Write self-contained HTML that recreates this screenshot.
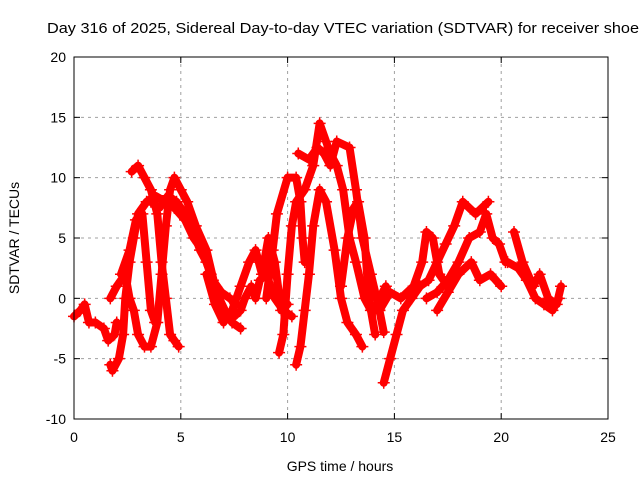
<!DOCTYPE html>
<html><head><meta charset="utf-8"><style>
body{margin:0;background:#fff;}
svg{display:block;font-family:"Liberation Sans",sans-serif;}
</style></head><body>
<svg id="chart" width="640" height="480" viewBox="0 0 640 480" xmlns="http://www.w3.org/2000/svg">
<text x="47" y="33" font-size="15" textLength="592" lengthAdjust="spacingAndGlyphs" fill="#000">Day 316 of 2025, Sidereal Day-to-day VTEC variation (SDTVAR) for receiver shoe</text>
<g id="grid"></g>
<g id="ticks"></g>
<g id="series"></g>
<rect x="74" y="57" width="534" height="362" fill="none" stroke="#000" stroke-width="1"/>
<text x="340" y="471" font-size="14" text-anchor="middle">GPS time / hours</text>
<text transform="translate(19,238) rotate(-90)" font-size="14" text-anchor="middle">SDTVAR / TECUs</text>
</svg>
<script>
const xTicks=[0,5,10,15,20,25];
const yTicks=[-10,-5,0,5,10,15,20];
const traceA=[[0,-1.5],[0.3,-1],[0.5,-0.5],[0.7,-2],[1,-2],[1.4,-2.5],[1.6,-3.5],[1.9,-3],[2.0,-2]];
const traceB=[[1.7,-5.5],[1.8,-6],[2.1,-5],[2.3,-3],[2.4,0],[2.6,3],[2.8,5],[3.0,7],[3.4,8],[3.8,8.5],[4.3,8],[4.7,7.5],[5.2,6.5],[5.6,5],[6.0,4],[6.4,2],[6.8,0],[7.2,-1.5],[7.5,-1.5],[7.8,-1],[8.0,0],[8.3,1],[8.5,0],[8.7,1.5],[9.0,2],[9.4,0],[9.8,-1],[10.2,-1.5]];
const traceC=[[1.7,0],[2.0,1],[2.4,2],[2.6,0],[2.8,-1],[3.0,-3],[3.3,-4],[3.6,-4],[3.9,-2],[4.1,2],[4.3,6],[4.5,9],[4.7,10],[5.0,9],[5.3,8],[5.7,6],[6.2,4],[6.6,1],[7.0,-1],[7.4,-2],[7.8,-2.5]];
const traceD=[[2.7,10.5],[3.0,11],[3.3,10],[3.6,9],[3.9,7],[4.1,3],[4.3,0],[4.5,-3],[4.7,-3.5],[4.9,-4]];
const traceE=[[2.2,2],[2.6,4],[2.9,6.5],[3.2,7],[3.4,3],[3.6,-1],[3.8,-2]];
const traceE2=[[6.2,2],[6.6,-0.5],[7.0,-2],[7.4,-1],[7.8,1],[8.2,3],[8.5,4],[8.8,2],[9.1,5],[9.4,3],[9.7,-1],[10.0,-0.5]];
const traceE3=[[3.6,8],[4.0,7.5],[4.4,8.5],[4.8,8],[5.2,7],[5.5,6],[5.9,4],[6.2,3],[6.5,1.5],[6.9,0.5],[7.3,0],[7.6,-0.5]];
const traceF=[[9.6,-4.5],[9.8,-3],[10.0,2],[10.2,6],[10.4,8],[10.8,9],[11.2,11],[11.5,14.5],[11.8,13],[12.0,12],[12.3,11],[12.6,9],[12.9,5],[13.2,3],[13.6,0],[13.9,-1],[14.1,-1],[14.3,0],[14.6,1]];
const traceG=[[9.0,0],[9.3,4],[9.5,7],[10.0,10],[10.4,10],[10.6,8],[10.7,5],[10.8,3]];
const traceH=[[10.4,-5.5],[10.6,-4],[10.8,-1],[11.0,2],[11.2,6],[11.5,9],[11.8,8],[12.2,4],[12.5,0],[12.8,-2],[13.2,-3],[13.5,-4]];
const traceI=[[10.5,12],[11.0,11.5],[11.4,12.5],[11.7,12],[12.0,11],[12.3,13],[12.9,12.5],[13.2,9],[13.5,5],[13.9,2],[14.3,-1],[14.5,-2.8]];
const traceJ=[[12.5,1],[12.8,5],[13.1,7.5],[13.3,8],[13.6,5],[13.8,0],[14.1,-3]];
const traceK=[[14.5,-7],[14.8,-5],[15.1,-3],[15.4,-1],[15.8,0],[16.2,1],[16.6,1.5],[17.0,3],[17.4,4.5],[17.8,6],[18.2,8],[18.8,7],[19.4,8]];
const traceL=[[14.3,-1],[14.8,0.5],[15.3,0],[15.9,1],[16.3,3],[16.5,5.5],[16.8,5],[17.1,2],[17.5,1]];
const traceM=[[16.5,0],[17.0,0.5],[17.5,1.5],[18.0,3],[18.5,5],[19.0,5.5],[19.3,7],[19.6,5],[19.9,4.5],[20.2,3]];
const traceN=[[17.0,-1],[17.5,0.5],[18.0,2],[18.6,3],[19.0,1.5],[19.5,2],[20.0,1]];
const traceO=[[20.6,5.5],[21.0,3],[21.5,1],[21.8,2],[22.2,0],[22.6,-0.5],[22.8,1]];
const traceP=[[20.3,3],[20.8,2.5],[21.2,1.5],[21.6,0],[22.0,-0.5],[22.4,-1],[22.7,0]];
const traces=[traceA,traceB,traceC,traceD,traceE,traceE2,traceE3,traceF,traceG,traceH,traceI,traceJ,traceK,traceL,traceM,traceN,traceO,traceP];

const NS="http://www.w3.org/2000/svg";
const X0=74,X1=608,Y0=419,Y1=57;
function sx(t){return X0+(t-0)/(25-0)*(X1-X0);}
function sy(v){return Y0-(v+10)/(30)*(Y0-Y1);}
const grid=document.getElementById('grid'),ticks=document.getElementById('ticks'),series=document.getElementById('series');
function mk(tag,attrs,parent){const e=document.createElementNS(NS,tag);for(const k in attrs)e.setAttribute(k,attrs[k]);parent.appendChild(e);return e;}
xTicks.forEach(t=>{
  const x=sx(t);
  if(t>0&&t<25){const g=mk('line',{x1:x,x2:x,y1:Y1,y2:Y0,stroke:'#a0a0a0','stroke-dasharray':'3,4'},grid);
  
  }
  mk('line',{x1:x,x2:x,y1:Y0,y2:Y0-6,stroke:'#000'},ticks);
  mk('line',{x1:x,x2:x,y1:Y1,y2:Y1+6,stroke:'#000'},ticks);
  const l=mk('text',{x:x,y:Y0+23,'font-size':'14','text-anchor':'middle'},ticks);l.textContent=t;
  
  
});
yTicks.forEach(v=>{
  const y=sy(v);
  if(v>-10&&v<20){const g=mk('line',{x1:X0,x2:X1,y1:y,y2:y,stroke:'#a0a0a0','stroke-dasharray':'3,4'},grid);
  
  }
  mk('line',{x1:X0,x2:X0+6,y1:y,y2:y,stroke:'#000'},ticks);
  mk('line',{x1:X1,x2:X1-6,y1:y,y2:y,stroke:'#000'},ticks);
  const l=mk('text',{x:X0-8,y:y+5,'font-size':'14','text-anchor':'end'},ticks);l.textContent=v;
  
  
});
traces.forEach(tr=>{
  const p=mk('polyline',{points:tr.map(d=>sx(d[0])+','+sy(d[1])).join(' '),fill:'none',stroke:'#ff0000','stroke-width':'8','stroke-linejoin':'round','stroke-linecap':'round'},series);
  
  
  tr.forEach(d=>{
    const x=sx(d[0]),y=sy(d[1]);
    const m=mk('path',{d:`M${x-6},${y}H${x+6}M${x},${y-6}V${y+6}`,stroke:'#ff0000','stroke-width':'1.5'},series);
    
    
  });
});
</script>
</body></html>
